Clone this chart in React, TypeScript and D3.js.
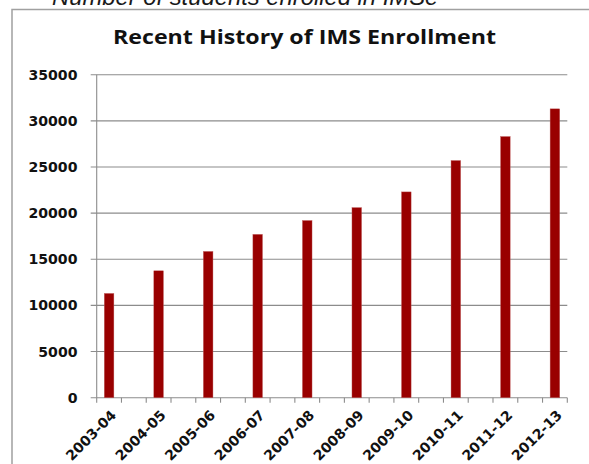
import React from "react";
import * as d3 from "d3";

const categories = ["2003-04", "2004-05", "2005-06", "2006-07", "2007-08", "2008-09", "2009-10", "2010-11", "2011-12", "2012-13"];
const enrollment = [11300, 13750, 15850, 17700, 19200, 20600, 22300, 25700, 28300, 31300];
const yTicks = [0, 5000, 10000, 15000, 20000, 25000, 30000, 35000];

const W = 589;
const H = 464;
const plotLeft = 96.7;
const plotRight = 567.3;
const plotTop = 74.7;
const plotBottom = 397.7;

export default function App() {
  const halfStep = (plotRight - plotLeft) / (categories.length * 2 - 1);
  const x = d3
    .scaleBand<string>()
    .domain(categories)
    .range([plotLeft, plotRight + halfStep])
    .paddingInner(0)
    .paddingOuter(0);
  const y = d3.scaleLinear().domain([0, 35000]).range([plotBottom, plotTop]);
  const barW = 9.6;
  const center = (c: string) => (x(c) as number) + halfStep / 2;
  const tickXs = d3.range(categories.length * 2).map((i) => plotLeft + i * halfStep);

  return (
    <svg width={W} height={H} style={{ position: "absolute", left: 0, top: 0, background: "#fff" }}>
      <text
        x={52}
        y={4.5}
        fontFamily="'Liberation Sans', Arial, sans-serif"
        fontStyle="italic"
        fontSize={23.8}
        fill="#1a1a1a"
      >
        Number of students enrolled in IMSe
      </text>
      <path d={`M12,${H + 5} L12,9.5 L${W + 5},9.5`} fill="none" stroke="#a0a0a0" strokeWidth={1.5} />
      <text
        x={113}
        y={44.3}
        textLength={383}
        lengthAdjust="spacingAndGlyphs"
        fontFamily="'Open Sans', sans-serif"
        fontWeight="bold"
        fontSize={19}
        fill="#111"
      >
        Recent History of IMS Enrollment
      </text>
      {yTicks.map((t) => (
        <g key={t}>
          <line x1={plotLeft - 6} x2={plotRight} y1={y(t)} y2={y(t)} stroke="#8c8c8c" strokeWidth={1.1} />
          <text
            x={77.5}
            y={y(t)}
            dy="0.36em"
            textAnchor="end"
            fontFamily="'DejaVu Sans', sans-serif"
            fontWeight="bold"
            fontSize={14.1}
            fill="#111"
          >
            {t}
          </text>
        </g>
      ))}
      <line x1={plotLeft} x2={plotLeft} y1={plotTop} y2={plotBottom} stroke="#8c8c8c" strokeWidth={1.1} />
      {tickXs.map((tx, i) => (
        <line key={i} x1={tx} x2={tx} y1={plotBottom} y2={plotBottom + 5} stroke="#8c8c8c" strokeWidth={1.1} />
      ))}
      {categories.map((c, i) => (
        <rect
          key={c}
          x={center(c) - barW / 2}
          y={y(enrollment[i])}
          width={barW}
          height={plotBottom - y(enrollment[i])}
          fill="#990000"
          stroke="#c06060"
          strokeWidth={0.4}
        />
      ))}
      {categories.map((c) => (
        <text
          key={c}
          transform={`translate(${center(c) + 8},416) rotate(-45)`}
          textAnchor="end"
          fontFamily="'DejaVu Sans', sans-serif"
          fontWeight="bold"
          fontSize={14}
          fill="#111"
        >
          {c}
        </text>
      ))}
    </svg>
  );
}
